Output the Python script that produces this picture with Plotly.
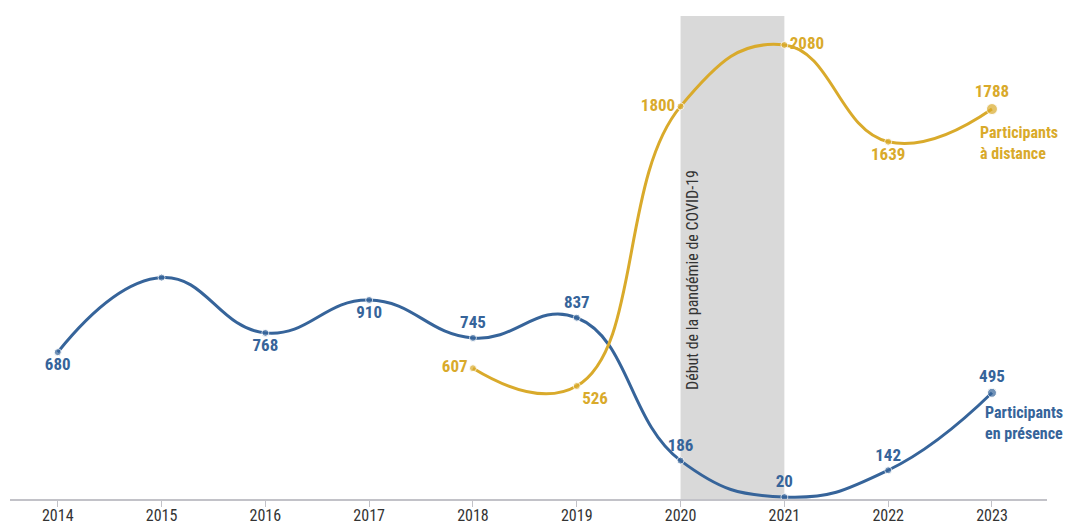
import plotly.graph_objects as go

BLUE = '#36649a'
GOLD = '#d9aa2b'
FONT = 'Roboto Condensed, DejaVu Sans Condensed, sans-serif'

years = [2014, 2015, 2016, 2017, 2018, 2019, 2020, 2021, 2022, 2023]
presence = [680, 1020, 768, 918, 745, 837, 186, 20, 142, 495]
presence_labels = ['680', '', '768', '910', '745', '837', '186', '20', '142', '495']

years_dist = [2018, 2019, 2020, 2021, 2022, 2023]
distance = [607, 526, 1800, 2080, 1639, 1788]

pres_pos = ['bottom center', 'top center', 'bottom center', 'bottom center', 'top center',
            'top center', 'top center', 'top center', 'top center', 'top center']
dist_pos = ['middle left', 'bottom right', 'middle left', 'middle right', 'bottom center', 'top center']

fig = go.Figure()

# covid band
fig.add_shape(type='rect', xref='x', yref='paper', x0=2020, x1=2021, y0=0, y1=1,
              fillcolor='#d9d9d9', line=dict(width=0), layer='below')

fig.add_trace(go.Scatter(
    x=years, y=presence, mode='lines+markers+text',
    line=dict(color=BLUE, width=3, shape='spline', smoothing=1.3),
    marker=dict(color=BLUE, size=[7] * 9 + [9]),
    text=presence_labels, textposition=pres_pos,
    textfont=dict(family=FONT, size=17, color=BLUE, weight='bold'),
    cliponaxis=False, showlegend=False, hoverinfo='x+y'))

fig.add_trace(go.Scatter(
    x=years_dist, y=distance, mode='lines+markers+text',
    line=dict(color=GOLD, width=3, shape='spline', smoothing=1.3),
    marker=dict(color=GOLD, size=[7] * 5 + [11]),
    text=[str(v) for v in distance], textposition=dist_pos,
    textfont=dict(family=FONT, size=17, color=GOLD, weight='bold'),
    cliponaxis=False, showlegend=False, hoverinfo='x+y'))

fig.add_annotation(x=2020, y=499, xref='x', yref='y', text='Début de la pandémie de COVID-19',
                   textangle=-90, showarrow=False, xanchor='left', yanchor='bottom', xshift=1,
                   font=dict(family=FONT, size=16, color='#333'))

fig.add_annotation(x=2023, y=1788, text='Participants<br>à distance', showarrow=False,
                   xanchor='left', yanchor='top', align='left', xshift=-14, yshift=-12,
                   font=dict(family=FONT, size=16, color=GOLD, weight='bold'))
fig.add_annotation(x=2023, y=495, text='Participants<br>en présence', showarrow=False,
                   xanchor='left', yanchor='top', align='left', xshift=-9, yshift=-8,
                   font=dict(family=FONT, size=16, color=BLUE, weight='bold'))

fig.update_layout(
    width=1067, height=525,
    margin=dict(l=10, r=20, t=16, b=26),
    plot_bgcolor='white', paper_bgcolor='white',
    font=dict(family=FONT, size=16, color='#333'),
    xaxis=dict(range=[2013.54, 2023.53], tickvals=years, ticktext=[str(y) for y in years],
               showgrid=False, zeroline=False, showline=True, linecolor='#c2c2c8', linewidth=2,
               ticks='outside', ticklen=6, tickcolor='#c2c2c8', tickwidth=1, automargin=False,
               ticklabelstandoff=-5,
               tickfont=dict(family=FONT, size=16, color='#333')),
    yaxis=dict(range=[11, 2212], visible=False, showgrid=False, zeroline=False),
)

fig.write_html('out.html', config={'displayModeBar': False},
               post_script="document.body.style.margin='0';")
